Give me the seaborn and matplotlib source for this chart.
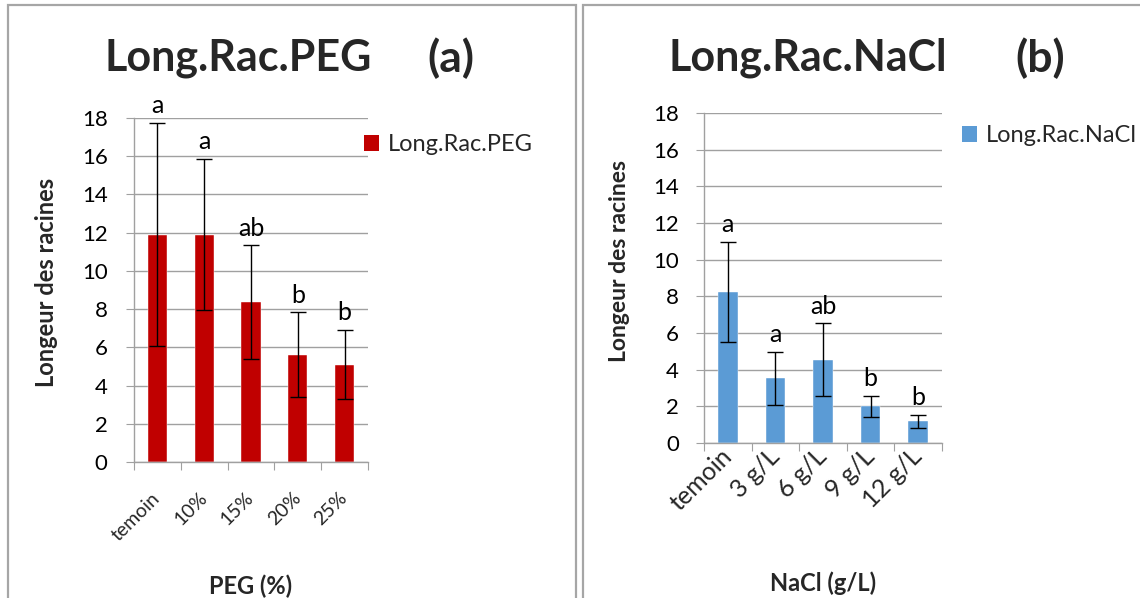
import matplotlib
matplotlib.use("Agg")
import matplotlib.pyplot as plt
from matplotlib.patches import Rectangle, Patch
import seaborn as sns
import pandas as pd

sns.set_theme(style="white")
plt.rcParams["font.family"] = ["Lato", "DejaVu Sans"]

# Root length under PEG stress
peg_labels = ["temoin", "10%", "15%", "20%", "25%"]
peg_means = [11.9, 11.9, 8.37, 5.62, 5.10]
peg_err = [5.85, 3.96, 2.97, 2.21, 1.80]
peg_groups = ["a", "a", "ab", "b", "b"]

# Root length under NaCl stress
nacl_labels = ["temoin", "3 g/L", "6 g/L", "9 g/L", "12 g/L"]
nacl_means = [8.24, 3.53, 4.55, 2.00, 1.18]
nacl_err = [2.72, 1.46, 1.97, 0.57, 0.35]
nacl_groups = ["a", "a", "ab", "b", "b"]

W, H = 1140, 598
fig = plt.figure(figsize=(W / 100, H / 100), dpi=100)

# Panel frames
border = "#A6A6A6"
fig.patches.append(Rectangle((8 / W, -0.05), (576 - 8) / W, 1.05 - 5 / H,
                             transform=fig.transFigure, fill=False,
                             edgecolor=border, linewidth=1.6))
fig.patches.append(Rectangle((583 / W, -0.05), 0.5, 1.05 - 5 / H,
                             transform=fig.transFigure, fill=False,
                             edgecolor=border, linewidth=1.6))


def px_axes(x0, x1, ytop, ybot):
    return fig.add_axes([x0 / W, (H - ybot) / H, (x1 - x0) / W, (ybot - ytop) / H])


def draw_panel(ax, labels, means, errs, groups, color, title, tag,
               xlabel, legend_label, cat_fs, cat_pad, ylab_fs, ylab_xy,
               xlab_y, title_x, tag_x, leg_anchor, ytick_pad):
    df = pd.DataFrame({"cat": labels, "val": means})
    sns.barplot(data=df, x="cat", y="val", color=color, width=0.41,
                saturation=1, ax=ax, edgecolor="white", linewidth=0.3)
    ax.errorbar(range(len(labels)), means, yerr=errs, fmt="none",
                ecolor="black", elinewidth=1.0, capsize=6, capthick=1.0,
                zorder=5)
    for i, (m, e, g) in enumerate(zip(means, errs, groups)):
        ax.annotate(g, (i, m + e), xytext=(0, 7), textcoords="offset points",
                    ha="center", va="baseline", fontsize=18, color="black",
                    zorder=6, annotation_clip=False)

    ax.set_ylim(0, 18)
    ax.set_xlim(-0.5, len(labels) - 0.5)
    ax.set_yticks(range(0, 19, 2))
    ax.tick_params(axis="y", labelsize=16, length=6, width=0.8,
                   color="#A0A0A0", pad=ytick_pad, labelcolor="black",
                   left=True)
    ax.set_xticks(range(len(labels)))
    ax.set_xticklabels(labels, rotation=45, ha="right", va="center",
                       rotation_mode="anchor", fontsize=cat_fs)
    ax.tick_params(axis="x", length=0, pad=cat_pad)
    ax.set_xticks([i - 0.5 for i in range(len(labels) + 1)], minor=True)
    ax.tick_params(axis="x", which="minor", length=6, width=0.8,
                   color="#A0A0A0", bottom=True)

    ax.grid(axis="y", color="#A0A0A0", linewidth=1.0)
    ax.set_axisbelow(True)
    for s in ["top", "right"]:
        ax.spines[s].set_visible(False)
    for s in ["left", "bottom"]:
        ax.spines[s].set_color("#A0A0A0")
        ax.spines[s].set_linewidth(1.0)

    ax.set_ylabel("Longeur des racines", fontsize=ylab_fs, fontweight="bold")
    ax.yaxis.set_label_coords(*ylab_xy)
    ax.set_xlabel(xlabel, fontsize=17, fontweight="bold")
    ax.xaxis.set_label_coords(0.5, xlab_y)
    ax.xaxis.label.set_va("center")
    ax.yaxis.label.set_va("center")

    fig.text(title_x / W, 1 - 58 / H, title, fontsize=31, fontweight="bold",
             ha="left", va="center")
    fig.text(tag_x / W, 1 - 58 / H, tag, fontsize=32, fontweight="bold",
             ha="left", va="center")

    handle = Patch(facecolor=color, edgecolor="none")
    fig.legend([handle], [legend_label], loc="center left",
               bbox_to_anchor=leg_anchor, frameon=False, fontsize=17,
               handlelength=0.65, handleheight=0.65, handletextpad=0.35,
               borderaxespad=0, borderpad=0)


ax1 = px_axes(134, 368, 118, 462)
draw_panel(ax1, peg_labels, peg_means, peg_err, peg_groups, "#C00000",
           "Long.Rac.PEG", "(a)", "PEG (%)", "Long.Rac.PEG",
           14, 24, 17, (-0.372, 0.523), -0.36, 105, 427,
           (364 / W, 1 - 145 / H), 13)

ax2 = px_axes(704, 942, 113, 443)
draw_panel(ax2, nacl_labels, nacl_means, nacl_err, nacl_groups, "#5B9BD5",
           "Long.Rac.NaCl", "(b)", "NaCl (g/L)", "Long.Rac.NaCl",
           18, 7, 16.5, (-0.353, 0.55), -0.425, 668, 1015,
           (962 / W, 1 - 136 / H), 12)

fig.savefig("out.png", dpi=100)
